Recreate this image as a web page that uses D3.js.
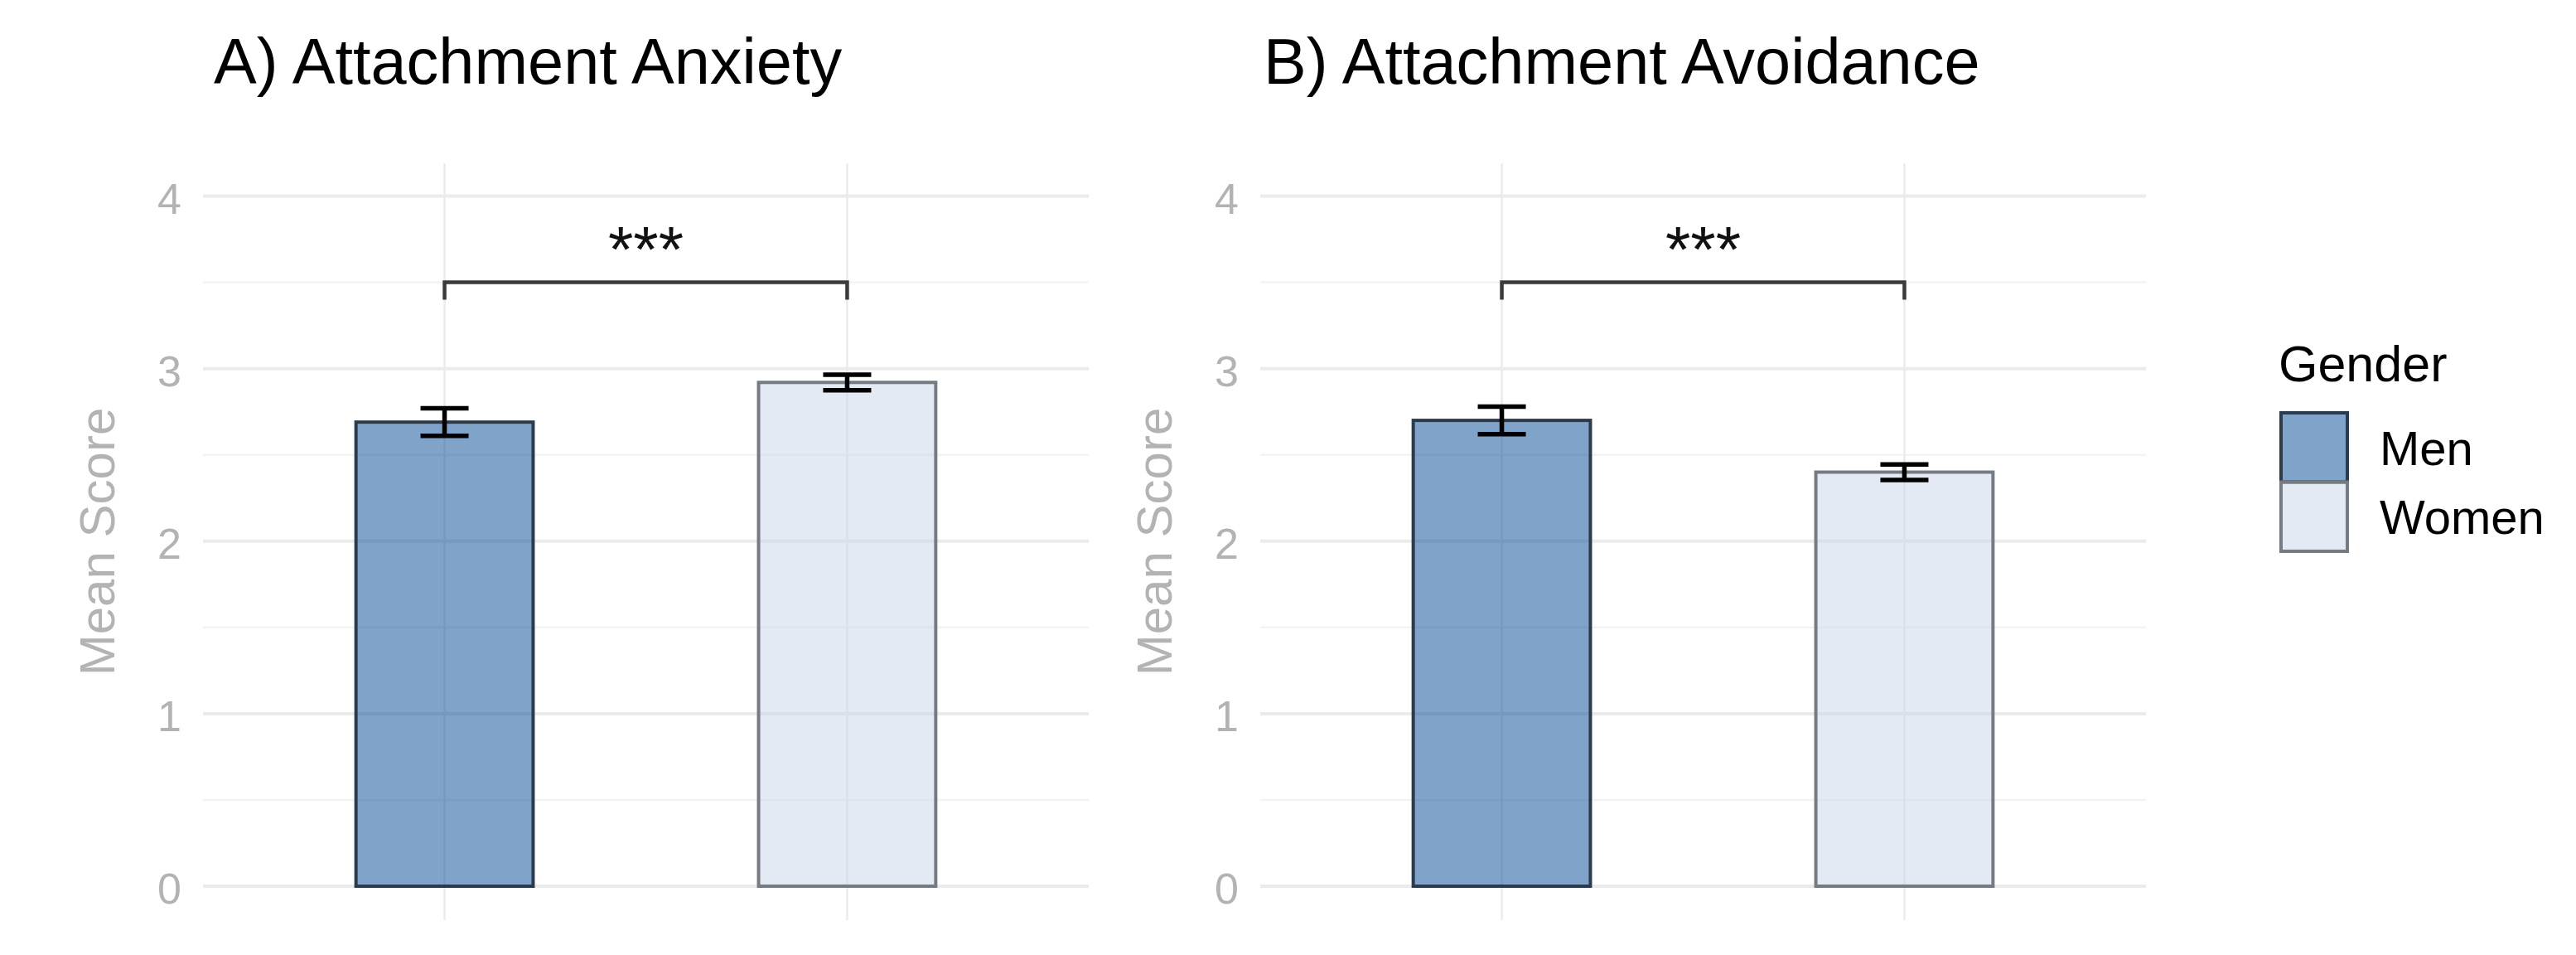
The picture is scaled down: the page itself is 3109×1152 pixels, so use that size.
<!DOCTYPE html>
<html>
<head>
<meta charset="utf-8">
<script src="https://cdn.jsdelivr.net/npm/d3@7"></script>
<style>
  body { margin: 0; background: #fff; }
  text { font-family: "Liberation Sans", Arial, sans-serif; }
</style>
</head>
<body>
<svg id="chart"></svg>
<script>
// data
const genders = ["Men", "Women"];
const panelTitles = ["A) Attachment Anxiety", "B) Attachment Avoidance"];
const anxietyMeans = [2.69, 2.92];
const anxietyErrors = [0.08, 0.045];
const avoidanceMeans = [2.70, 2.40];
const avoidanceErrors = [0.08, 0.045];
const yTicks = [0, 1, 2, 3, 4];
const yMinorTicks = [0.5, 1.5, 2.5, 3.5];
const sigLabels = ["***", "***"];
const bracketTop = 3.5;
const bracketTip = 3.4;

const panels = [
  { title: panelTitles[0], means: anxietyMeans, errors: anxietyErrors, sig: sigLabels[0] },
  { title: panelTitles[1], means: avoidanceMeans, errors: avoidanceErrors, sig: sigLabels[1] }
];

const fills = { "Men": "#014793", "Women": "#c7d5e9" };
const strokes = { "Men": "#2c3b4c", "Women": "#767b82" };

const width = 3109, height = 1152;
const svg = d3.select("#chart")
  .attr("width", width)
  .attr("height", height);

const panelW = 1069;
const panelTop = 197, panelBottom = 1110;
const panelLefts = [245, 1521];

const y = d3.scaleLinear()
  .domain([-0.197, 4.19])
  .range([panelBottom, panelTop]);

panels.forEach((p, i) => {
  const left = panelLefts[i];
  const g = svg.append("g");

  const x = d3.scalePoint()
    .domain(genders)
    .range([left, left + panelW])
    .padding(0.6);
  const barW = x.step() * 0.44;

  // minor grid
  g.selectAll(".minor")
    .data(yMinorTicks)
    .join("line")
      .attr("x1", left).attr("x2", left + panelW)
      .attr("y1", d => y(d)).attr("y2", d => y(d))
      .attr("stroke", "#f3f3f3")
      .attr("stroke-width", 2.5);

  // major grid
  g.selectAll(".major")
    .data(yTicks)
    .join("line")
      .attr("x1", left).attr("x2", left + panelW)
      .attr("y1", d => y(d)).attr("y2", d => y(d))
      .attr("stroke", "#ebebeb")
      .attr("stroke-width", 4);

  g.selectAll(".vgrid")
    .data(genders)
    .join("line")
      .attr("x1", d => x(d)).attr("x2", d => x(d))
      .attr("y1", panelTop).attr("y2", panelBottom)
      .attr("stroke", "#ebebeb")
      .attr("stroke-width", 2.5);

  // y axis labels (no axis line, no ticks)
  const yAxis = d3.axisLeft(y).tickValues(yTicks).tickFormat(d3.format("d")).tickSize(0).tickPadding(0);
  const ax = g.append("g")
    .attr("transform", `translate(${left - 26},0)`)
    .call(yAxis);
  ax.select(".domain").remove();
  ax.selectAll("text")
    .attr("fill", "#b3b3b3")
    .attr("font-size", 52)
    .attr("dy", "0.4em")
    .style("font-family", "'Liberation Sans', Arial, sans-serif");

  g.append("text")
    .attr("transform", `translate(${left - 107},${(panelTop + panelBottom) / 2}) rotate(-90)`)
    .attr("text-anchor", "middle")
    .attr("font-size", 60)
    .attr("fill", "#b3b3b3")
    .text("Mean Score");

  // bars
  g.selectAll(".bar")
    .data(genders)
    .join("rect")
      .attr("x", d => x(d) - barW / 2)
      .attr("width", barW)
      .attr("y", (d, j) => y(p.means[j]))
      .attr("height", (d, j) => y(0) - y(p.means[j]))
      .attr("fill", d => fills[d])
      .attr("fill-opacity", 0.5)
      .attr("stroke", d => strokes[d])
      .attr("stroke-width", 4);

  // error bars
  const capW = 58;
  const eb = g.selectAll(".err")
    .data(genders)
    .join("g")
      .attr("stroke", "#000")
      .attr("stroke-width", 5.5)
      .attr("fill", "none");
  eb.append("line")
    .attr("x1", d => x(d)).attr("x2", d => x(d))
    .attr("y1", (d, j) => y(p.means[j] + p.errors[j]))
    .attr("y2", (d, j) => y(p.means[j] - p.errors[j]));
  eb.append("line")
    .attr("x1", d => x(d) - capW / 2).attr("x2", d => x(d) + capW / 2)
    .attr("y1", (d, j) => y(p.means[j] + p.errors[j]))
    .attr("y2", (d, j) => y(p.means[j] + p.errors[j]));
  eb.append("line")
    .attr("x1", d => x(d) - capW / 2).attr("x2", d => x(d) + capW / 2)
    .attr("y1", (d, j) => y(p.means[j] - p.errors[j]))
    .attr("y2", (d, j) => y(p.means[j] - p.errors[j]));

  // significance bracket
  const bx1 = x(genders[0]), bx2 = x(genders[1]);
  g.append("path")
    .attr("d", `M${bx1},${y(bracketTip)}V${y(bracketTop)}H${bx2}V${y(bracketTip)}`)
    .attr("fill", "none")
    .attr("stroke", "#3a3a3a")
    .attr("stroke-width", 4.5);

  g.append("text")
    .attr("x", (bx1 + bx2) / 2)
    .attr("y", 328)
    .attr("text-anchor", "middle")
    .attr("font-size", 78)
    .attr("fill", "#111")
    .text(p.sig);

  // title
  g.append("text")
    .attr("x", i === 0 ? 258 : 1525)
    .attr("y", 101)
    .attr("font-size", 77.5)
    .attr("fill", "#000")
    .text(p.title);
});

// legend
const legend = svg.append("g");
legend.append("text")
  .attr("x", 2750)
  .attr("y", 460)
  .attr("font-size", 61)
  .attr("fill", "#000")
  .text("Gender");

const keyH = 83.5;
legend.selectAll(".key")
  .data(genders)
  .join("rect")
    .attr("x", 2753)
    .attr("y", (d, j) => 498 + j * keyH)
    .attr("width", 80)
    .attr("height", keyH)
    .attr("fill", d => fills[d])
    .attr("fill-opacity", 0.5)
    .attr("stroke", d => strokes[d])
    .attr("stroke-width", 4);

legend.selectAll(".lab")
  .data(genders)
  .join("text")
    .attr("x", 2872)
    .attr("y", (d, j) => 498 + j * keyH + keyH / 2)
    .attr("dy", "0.36em")
    .attr("font-size", 58)
    .attr("fill", "#000")
    .text(d => d);
</script>
</body>
</html>
